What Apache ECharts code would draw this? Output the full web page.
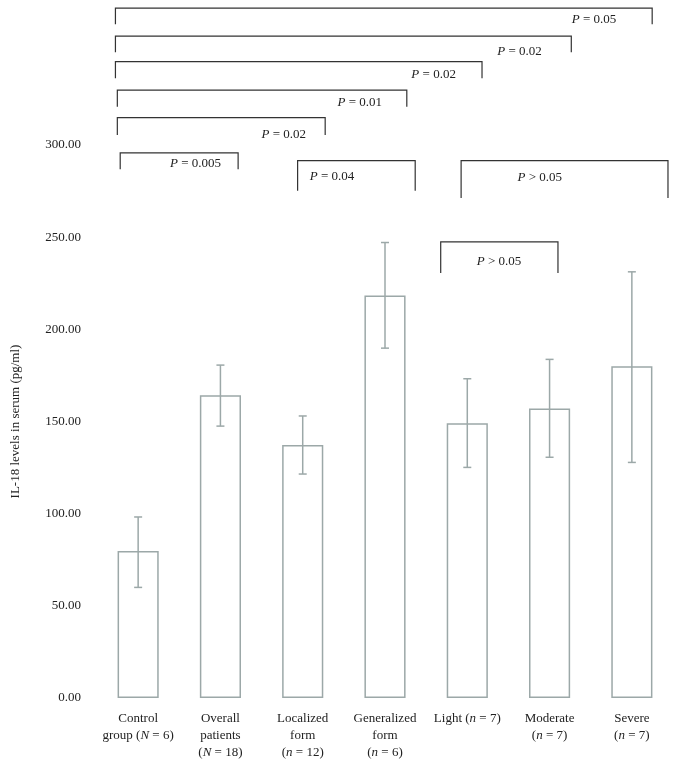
<!DOCTYPE html>
<html>
<head>
<meta charset="utf-8">
<script src="https://cdn.jsdelivr.net/npm/echarts@6/dist/echarts.min.js"></script>
<style>
html,body{margin:0;padding:0;background:#fff;}
#chart{width:676px;height:765px;}
</style>
</head>
<body>
<div id="chart"></div>
<script>
// ---- data ----
var categories = [
  'Control\ngroup ({i|N} = 6)',
  'Overall\npatients\n({i|N} = 18)',
  'Localized\nform\n({i|n} = 12)',
  'Generalized\nform\n({i|n} = 6)',
  'Light ({i|n} = 7)',
  'Moderate\n({i|n} = 7)',
  'Severe\n({i|n} = 7)'
];
var means   = [79.7, 164.3, 137.2, 218.4, 149.0, 157.1, 180.0];
var errLow  = [60.0, 147.5, 121.5, 189.8, 125.1, 130.6, 127.8];
var errHigh = [98.2, 180.6, 153.0, 247.1, 173.2, 183.7, 231.2];
var yTicks  = [0, 50, 100, 150, 200, 250, 300];

// significance brackets (x in category units, y in pg/ml units)
var bracketX1   = [-0.276, -0.276, -0.276, -0.253, -0.253, -0.218, 1.938, 3.925, 3.677];
var bracketX2   = [6.247, 5.264, 4.179, 3.265, 2.273, 1.215, 3.367, 6.439, 5.102];
var bracketTop  = [374.3, 359.1, 345.2, 329.8, 314.8, 295.7, 291.5, 291.5, 247.4];
var bracketFoot = [365.5, 350.3, 336.2, 320.8, 305.4, 286.8, 275.2, 271.3, 230.6];
var bracketText = ['{i|P} = 0.05', '{i|P} = 0.02', '{i|P} = 0.02', '{i|P} = 0.01', '{i|P} = 0.02',
                   '{i|P} = 0.005', '{i|P} = 0.04', '{i|P} > 0.05', '{i|P} > 0.05'];
var textX = [5.540, 4.634, 3.591, 2.693, 1.769, 0.697, 2.356, 4.880, 4.385];
var textY = [367.8, 350.6, 338.0, 322.9, 305.4, 289.7, 282.6, 282.1, 236.5];

// ---- chart ----
var FONT = '"Liberation Serif", "DejaVu Serif", serif';
var BAR_COLOR = '#9ca8a8';
var chart = echarts.init(document.getElementById('chart'));

var errData = means.map(function (m, i) { return [i, errLow[i], errHigh[i]]; });
var brData = bracketX1.map(function (x, i) {
  return [x, bracketX2[i], bracketTop[i], bracketFoot[i], textX[i], textY[i], i];
});

chart.setOption({
  animation: false,
  backgroundColor: '#fff',
  grid: { left: 97, right: 3, top: 145, bottom: 67, containLabel: false, outerBoundsMode: 'none' },
  xAxis: [{
    type: 'category',
    data: categories,
    axisLine: { show: false },
    axisTick: { show: false },
    axisLabel: {
      interval: 0,
      margin: 12,
      fontFamily: FONT,
      fontSize: 13,
      color: '#222',
      lineHeight: 17,
      rich: { i: { fontStyle: 'italic', fontFamily: FONT, fontSize: 13, color: '#222', lineHeight: 17 } }
    }
  }, {
    type: 'value',
    min: -0.5,
    max: 6.5,
    show: false
  }],
  yAxis: {
    type: 'value',
    min: 0,
    max: 300,
    interval: 50,
    name: 'IL-18 levels in serum (pg/ml)',
    nameLocation: 'middle',
    nameGap: 75,
    nameRotate: 90,
    nameTextStyle: { fontFamily: FONT, fontSize: 13, color: '#222' },
    axisLine: { show: false },
    axisTick: { show: false },
    splitLine: { show: false },
    axisLabel: {
      margin: 16,
      fontFamily: FONT,
      fontSize: 13,
      color: '#222',
      formatter: function (v) { return yTicks.indexOf(v) >= 0 ? v.toFixed(2) : ''; }
    }
  },
  series: [{
    type: 'bar',
    data: means,
    barWidth: '50%',
    itemStyle: { color: '#fff', borderColor: BAR_COLOR, borderWidth: 1.5 }
  }, {
    type: 'custom',
    data: errData,
    encode: { x: 0, y: [1, 2] },
    z: 3,
    renderItem: function (params, api) {
      var lo = api.coord([api.value(0), api.value(1)]);
      var hi = api.coord([api.value(0), api.value(2)]);
      var c = 4;
      var st = { stroke: BAR_COLOR, lineWidth: 1.5, fill: null };
      return { type: 'group', children: [
        { type: 'line', shape: { x1: lo[0], y1: lo[1], x2: hi[0], y2: hi[1] }, style: st },
        { type: 'line', shape: { x1: lo[0] - c, y1: lo[1], x2: lo[0] + c, y2: lo[1] }, style: st },
        { type: 'line', shape: { x1: hi[0] - c, y1: hi[1], x2: hi[0] + c, y2: hi[1] }, style: st }
      ]};
    }
  }, {
    type: 'custom',
    xAxisIndex: 1,
    data: brData,
    encode: { x: [0, 1], y: [2, 3] },
    clip: false,
    z: 4,
    renderItem: function (params, api) {
      var idx = api.value(6);
      var a = api.coord([api.value(0), api.value(3)]);
      var b = api.coord([api.value(0), api.value(2)]);
      var c = api.coord([api.value(1), api.value(2)]);
      var d = api.coord([api.value(1), api.value(3)]);
      var t = api.coord([api.value(4), api.value(5)]);
      return { type: 'group', children: [
        { type: 'polyline', shape: { points: [a, b, c, d] },
          style: { stroke: '#333', lineWidth: 1.2, fill: null } },
        { type: 'text', x: t[0], y: t[1],
          style: {
            text: bracketText[idx],
            align: 'center', verticalAlign: 'middle',
            fontFamily: FONT, fontSize: 13, fill: '#222',
            rich: { i: { fontStyle: 'italic', fontFamily: FONT, fontSize: 13, fill: '#222' } }
          } }
      ]};
    }
  }]
});
</script>
</body>
</html>
